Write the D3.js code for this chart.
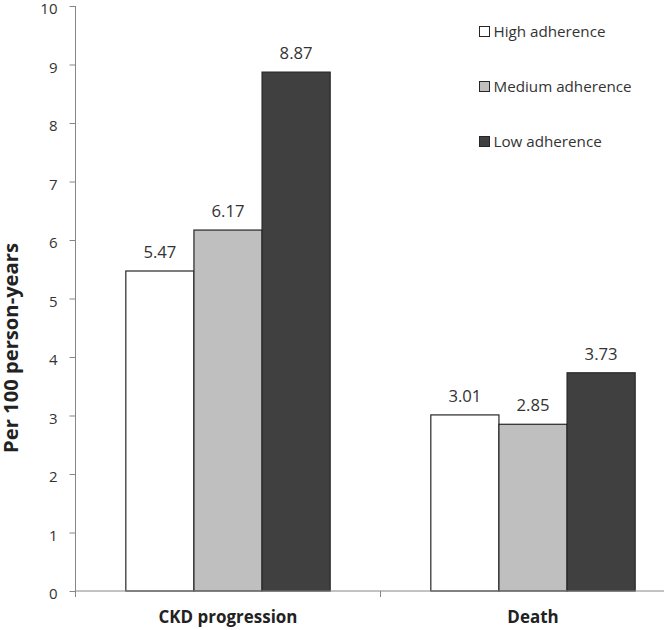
<!DOCTYPE html>
<html>
<head>
<meta charset="utf-8">
<script src="https://cdn.jsdelivr.net/npm/d3@7/dist/d3.min.js"></script>
<style>
  html, body { margin: 0; padding: 0; background: #fff; }
  svg { display: block; font-family: "Open Sans", sans-serif; }
</style>
</head>
<body>
<svg id="chart" width="664" height="630"></svg>
<script>
const categories = ["CKD progression", "Death"];
const series = ["High adherence", "Medium adherence", "Low adherence"];
const highValues = [5.47, 3.01];
const mediumValues = [6.17, 2.85];
const lowValues = [8.87, 3.73];
const yTicks = [0, 1, 2, 3, 4, 5, 6, 7, 8, 9, 10];
const yTitle = "Per 100 person-years";

const valuesBySeries = [highValues, mediumValues, lowValues];
const colors = ["#ffffff", "#bfbfbf", "#404040"];

const svg = d3.select("#chart");
const plotLeft = 75.5, plotRight = 685.5, plotTop = 6, plotBottom = 591;

// scale font of a selection so that its first node reaches a target width
function fitFont(sel, base, target) {
  const w = sel.node().getComputedTextLength();
  const fs = base * target / w;
  sel.attr("font-size", fs);
  return fs;
}

const y = d3.scaleLinear().domain([0, 10]).range([plotBottom, plotTop]);
const x0 = d3.scaleBand().domain(categories).range([plotLeft, plotRight])
  .paddingInner(0.33).paddingOuter(0.165);
const x1 = d3.scaleBand().domain(series).range([0, x0.bandwidth()]);
const color = d3.scaleOrdinal().domain(series).range(colors);

const data = [];
categories.forEach((c, i) => {
  series.forEach((s, j) => data.push({cat: c, ser: s, val: valuesBySeries[j][i]}));
});

// Bars
svg.append("g").selectAll("rect").data(data).join("rect")
  .attr("x", d => x0(d.cat) + x1(d.ser))
  .attr("y", d => y(d.val))
  .attr("width", x1.bandwidth())
  .attr("height", d => y(0) - y(d.val))
  .attr("fill", d => color(d.ser))
  .attr("stroke", "#262626")
  .attr("stroke-width", 1.2);

// Value labels
const vl = svg.append("g").selectAll("text").data(data).join("text")
  .attr("x", d => x0(d.cat) + x1(d.ser) + x1.bandwidth() / 2)
  .attr("y", d => y(d.val) - 13)
  .attr("text-anchor", "middle")
  .attr("font-size", 15)
  .attr("fill", "#333")
  .text(d => d.val.toFixed(2));
fitFont(vl, 15, 33);

// Y axis
const yAxis = svg.append("g").attr("transform", `translate(${plotLeft},0)`)
  .call(d3.axisLeft(y).tickValues(yTicks).tickSize(6).tickPadding(12).tickFormat(d3.format("d")));
yAxis.select(".domain").attr("stroke", "#868686").attr("d", `M0,${plotTop}V${plotBottom}`);
yAxis.selectAll(".tick line").attr("stroke", "#868686");
yAxis.selectAll(".tick text").attr("font-size", 15).attr("fill", "#333")
  .attr("dy", "0.5em")
  .attr("font-family", "Open Sans, sans-serif");

// X axis
const xAxisG = svg.append("g").attr("transform", `translate(0,${plotBottom})`);
xAxisG.append("line").attr("x1", plotLeft).attr("x2", 664).attr("stroke", "#868686");
const boundaries = [plotLeft, x0.step() + plotLeft];
xAxisG.selectAll(".xt").data(boundaries).join("line")
  .attr("x1", d => d).attr("x2", d => d).attr("y1", 0).attr("y2", 6)
  .attr("stroke", "#868686");
const xl = xAxisG.selectAll(".xl").data(categories).join("text")
  .attr("x", d => x0(d) + x0.bandwidth() / 2)
  .attr("y", 32)
  .attr("text-anchor", "middle")
  .attr("font-size", 16)
  .attr("font-weight", "bold")
  .attr("fill", "#222")
  .text(d => d);
fitFont(xl, 16, 139);

// Y title
const yt = svg.append("text")
  .attr("transform", `translate(17.5,348) rotate(-90)`)
  .attr("text-anchor", "middle")
  .attr("font-size", 17)
  .attr("font-weight", "bold")
  .attr("fill", "#222")
  .text(yTitle);
fitFont(yt, 17, 210);

// Legend
const legend = svg.append("g").attr("transform", "translate(479.5,0)");
const ly = d3.scalePoint().domain(series).range([31.5, 141.5]);
const lg = legend.selectAll("g").data(series).join("g")
  .attr("transform", d => `translate(0,${ly(d)})`);
lg.append("rect").attr("x", 0).attr("y", -5).attr("width", 10).attr("height", 10)
  .attr("fill", d => color(d)).attr("stroke", "#262626").attr("stroke-width", 1);
const lt = lg.append("text").attr("x", 14).attr("y", 5.5).attr("font-size", 15).attr("fill", "#333")
  .text(d => d);
fitFont(lt, 15, 112);
</script>
</body>
</html>
